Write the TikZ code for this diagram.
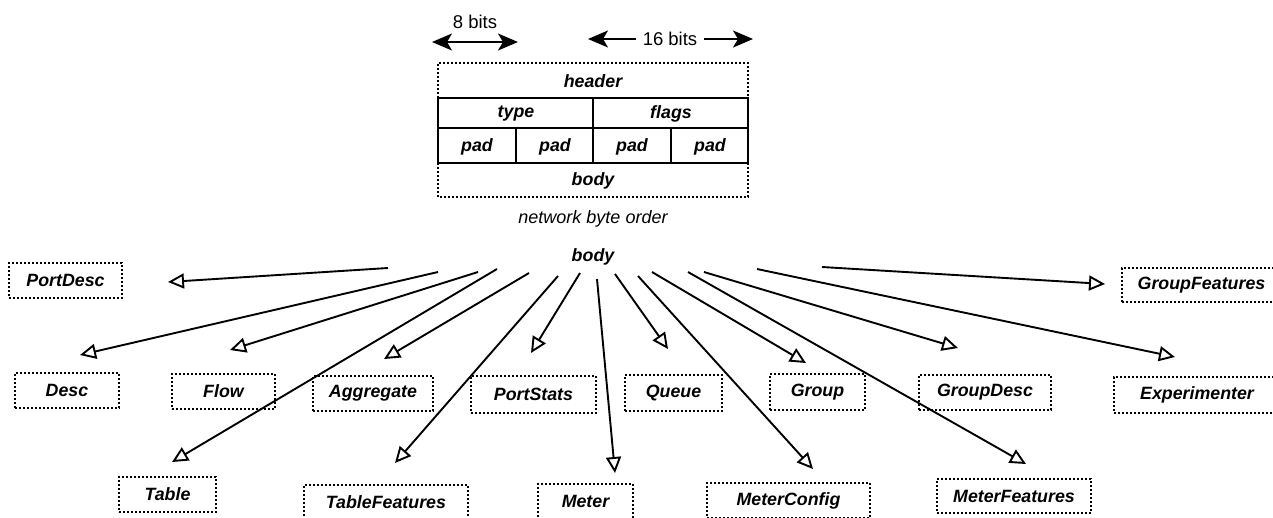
\documentclass[tikz,border=0pt]{standalone}
\usepackage{fontspec}
\setmainfont{Liberation Sans}
\usetikzlibrary{arrows.meta}

\begin{document}
\begin{tikzpicture}[x=1pt,y=-1pt,
  lbl/.style={font=\fontsize{17.8}{20}\selectfont\bfseries\itshape, inner sep=0pt},
  plain/.style={font=\fontsize{18.5}{21}\selectfont, inner sep=0pt},
  note/.style={font=\fontsize{18}{21}\selectfont\itshape, inner sep=0pt},
  msgbox/.style={draw, line width=1.8pt, dash pattern=on 1.8pt off 2.2pt,
    rectangle, inner sep=0pt,
    font=\fontsize{17.8}{20}\selectfont\bfseries\itshape},
  fieldline/.style={line width=2.2pt},
  dotline/.style={line width=1.8pt, dash pattern=on 1.8pt off 2.2pt},
  sizearrow/.style={line width=2pt, {Stealth[length=20pt,width=17pt,inset=5pt]}-{Stealth[length=20pt,width=17pt,inset=5pt]}},
  halfarrow/.style={line width=2pt, -{Stealth[length=20pt,width=17pt,inset=5pt]}},
  sub/.style={line width=1.9pt, -{Triangle[open,length=16pt,width=15pt,line width=1.9pt]}}
]
\path[use as bounding box, clip] (0,0) rectangle (1273,517);

% ---- message layout ----
\draw[dotline] (438,98) -- (438,63) -- (748,63) -- (748,98);
\draw[dotline] (438,163) -- (438,197) -- (748,197) -- (748,163);
\draw[fieldline] (438,98) rectangle (748,163);
\draw[fieldline] (438,128) -- (748,128);
\draw[fieldline] (593,98) -- (593,163);
\draw[fieldline] (516,128) -- (516,163);
\draw[fieldline] (671,128) -- (671,163);

\node[lbl] (hdr) at (593,81) {header};
\node[lbl] (type) at (516,114) {type};
\node[lbl] (flags) at (671,114) {flags};
\node[lbl] (pad1) at (477,147) {pad};
\node[lbl] (pad2) at (555,147) {pad};
\node[lbl] (pad3) at (632,147) {pad};
\node[lbl] (pad4) at (710,147) {pad};
\node[lbl] (bdy) at (593,181) {body};
\node[note] (order) at (593,219) {network byte order};

% ---- field widths ----
\node[plain] (eight) at (475,22) {8 bits};
\coordinate (eightL) at (432,42);
\coordinate (eightR) at (518,42);
\draw[sizearrow] (eightL) -- (eightR);

\node[plain, inner xsep=7pt] (sixteen) at (670,39) {16 bits};
\coordinate (sixL) at (588,39);
\coordinate (sixR) at (753,39);
\draw[halfarrow] (sixteen.west) -- (sixL);
\draw[halfarrow] (sixteen.east) -- (sixR);

% ---- body types ----
\node[lbl] (body) at (593,257) {body};

\node[msgbox, minimum width=113, minimum height=35] (portdesc) at (65.5,280.5) {PortDesc};
\node[msgbox, minimum width=104, minimum height=35] (desc) at (67,390.5) {Desc};
\node[msgbox, minimum width=103, minimum height=35] (flow) at (223.5,391.5) {Flow};
\node[msgbox, minimum width=120, minimum height=35] (aggr) at (373,393.5) {Aggregate};
\node[msgbox, minimum width=125, minimum height=37] (portstats) at (533.5,394.5) {PortStats};
\node[msgbox, minimum width=97, minimum height=36] (queue) at (673.5,393) {Queue};
\node[msgbox, minimum width=95, minimum height=36] (group) at (817.5,392) {Group};
\node[msgbox, minimum width=132, minimum height=35] (groupdesc) at (985,392.5) {GroupDesc};
\node[msgbox, minimum width=166, minimum height=36] (exper) at (1197,395) {Experimenter};
\node[msgbox, minimum width=159, minimum height=34] (groupfeat) at (1201.5,285) {GroupFeatures};
\node[msgbox, minimum width=97, minimum height=35] (table) at (167.5,494.5) {Table};
\node[msgbox, minimum width=164, minimum height=35] (tablefeat) at (386,502.5) {TableFeatures};
\node[msgbox, minimum width=95, minimum height=35] (meter) at (585.5,501.5) {Meter};
\node[msgbox, minimum width=163, minimum height=35] (meterconf) at (788.5,500.5) {MeterConfig};
\node[msgbox, minimum width=154, minimum height=34] (meterfeat) at (1014,496) {MeterFeatures};

% connector ends
\coordinate (sPortDesc) at (388,268);   \coordinate (tPortDesc) at (168,282);
\coordinate (sDesc) at (438,272);       \coordinate (tDesc) at (80,355);
\coordinate (sFlow) at (478,272);       \coordinate (tFlow) at (230,350);
\coordinate (sTable) at (497,269);      \coordinate (tTable) at (172,462);
\coordinate (sAggr) at (529,273);       \coordinate (tAggr) at (384,359);
\coordinate (sTableF) at (558,276);     \coordinate (tTableF) at (395,463);
\coordinate (sPortStats) at (580,273);  \coordinate (tPortStats) at (531,353);
\coordinate (sMeter) at (597,279);      \coordinate (tMeter) at (615,473);
\coordinate (sQueue) at (615,274);      \coordinate (tQueue) at (668,349);
\coordinate (sMeterC) at (638,276);     \coordinate (tMeterC) at (813,469);
\coordinate (sGroup) at (652,272);      \coordinate (tGroup) at (806,363);
\coordinate (sMeterF) at (688,272);     \coordinate (tMeterF) at (1026,464);
\coordinate (sGroupD) at (704,272);     \coordinate (tGroupD) at (958,348);
\coordinate (sExper) at (757,269);      \coordinate (tExper) at (1175,357);
\coordinate (sGroupF) at (822,267);     \coordinate (tGroupF) at (1105,284);

\foreach \n in {PortDesc,Desc,Flow,Table,Aggr,TableF,PortStats,Meter,Queue,MeterC,Group,MeterF,GroupD,Exper,GroupF}
  \draw[sub] (s\n) -- (t\n);
\end{tikzpicture}
\end{document}
